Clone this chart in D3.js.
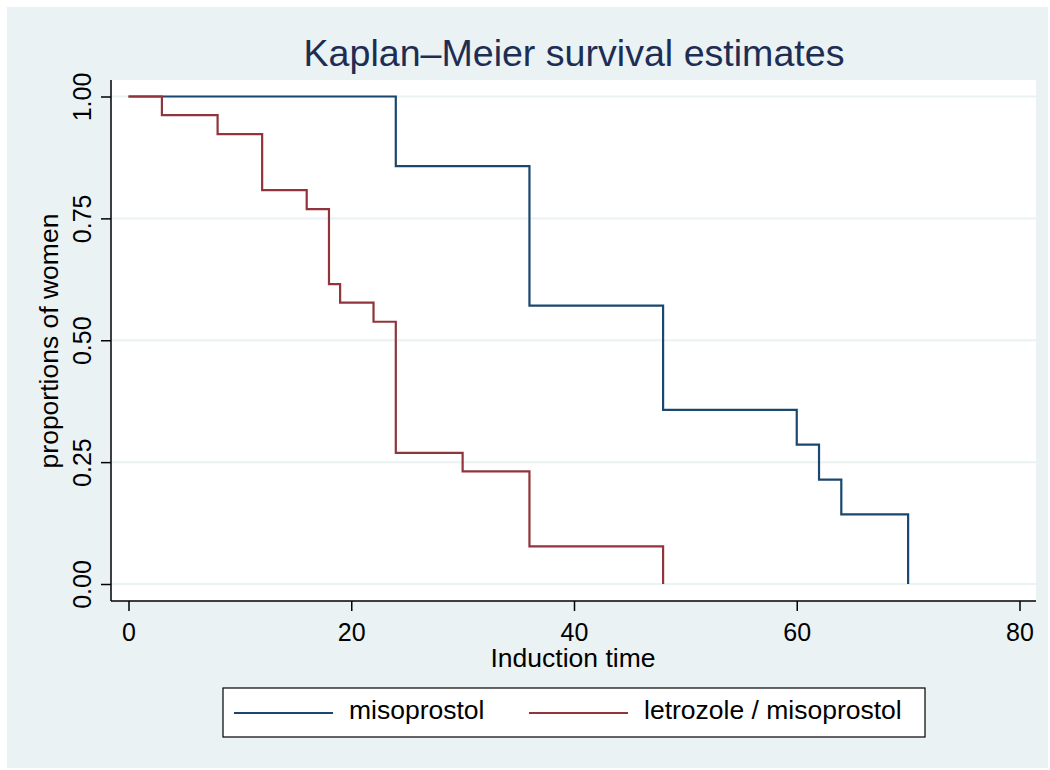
<!DOCTYPE html>
<html>
<head>
<meta charset="utf-8">
<script src="https://cdn.jsdelivr.net/npm/d3@7"></script>
<style>
  body { margin: 0; background: #fff; }
  text { font-family: "Liberation Sans", Arial, sans-serif; }
</style>
</head>
<body>
<div id="chart"></div>
<script>
// Kaplan-Meier estimates
var misoTimes = [0, 24, 36, 48, 60, 62, 64, 70];
var misoSurv  = [1.000, 0.857, 0.571, 0.357, 0.286, 0.214, 0.143, 0.000];

var letroTimes = [0, 3, 8, 12, 16, 18, 19, 22, 24, 30, 36, 48];
var letroSurv  = [1.000, 0.962, 0.923, 0.808, 0.769, 0.615, 0.577, 0.538, 0.269, 0.231, 0.077, 0.000];

var xTicks = [0, 20, 40, 60, 80];
var yTicks = [0, 0.25, 0.5, 0.75, 1];
var seriesNames = ["misoprostol", "letrozole / misoprostol"];
var seriesColors = ["#1a476f", "#90353b"];

var W = 1050, H = 770;
var svg = d3.select("#chart").append("svg")
    .attr("width", W).attr("height", H);

// outer background
svg.append("rect")
    .attr("x", 7).attr("y", 7)
    .attr("width", 1041).attr("height", 761)
    .attr("fill", "#eaf2f3");

// plot region
var plot = {left: 111, right: 1036, top: 80, bottom: 601};
svg.append("rect")
    .attr("x", plot.left).attr("y", plot.top)
    .attr("width", plot.right - plot.left)
    .attr("height", plot.bottom - plot.top)
    .attr("fill", "#ffffff");

var x = d3.scaleLinear().domain([0, 80]).range([128.5, 1019.5]);
var y = d3.scaleLinear().domain([0, 1]).range([584, 96.5]);

// gridlines
svg.append("g").selectAll("line")
    .data(yTicks).enter().append("line")
    .attr("x1", plot.left).attr("x2", plot.right)
    .attr("y1", function(d) { return y(d); })
    .attr("y2", function(d) { return y(d); })
    .attr("stroke", "#eaf2f3")
    .attr("stroke-width", 2);

// axes
var xAxis = d3.axisBottom(x).tickValues(xTicks)
    .tickSize(10).tickPadding(12).tickFormat(d3.format("d"));
var gx = svg.append("g")
    .attr("transform", "translate(0," + plot.bottom + ")")
    .call(xAxis);
gx.select(".domain").attr("d", "M" + plot.left + ",0H" + plot.right)
    .attr("stroke", "#000").attr("stroke-width", 1.5);

var yAxis = d3.axisLeft(y).tickValues(yTicks)
    .tickSize(10).tickFormat(d3.format(".2f"));
var gy = svg.append("g")
    .attr("transform", "translate(" + plot.left + ",0)")
    .call(yAxis);
gy.select(".domain").attr("d", "M0," + plot.top + "V" + plot.bottom)
    .attr("stroke", "#000").attr("stroke-width", 1.5);

svg.selectAll(".tick line").attr("stroke", "#000").attr("stroke-width", 1.5);
gx.selectAll(".tick text")
    .attr("font-size", 25)
    .attr("fill", "#000")
    .attr("font-family", "Liberation Sans, Arial, sans-serif");
gy.selectAll(".tick text")
    .attr("font-size", 25)
    .attr("fill", "#000")
    .attr("font-family", "Liberation Sans, Arial, sans-serif")
    .attr("text-anchor", "middle")
    .attr("dy", null)
    .attr("x", null)
    .attr("transform", "translate(-20,0) rotate(-90)");

// step lines
var line = d3.line()
    .x(function(d) { return x(d[0]); })
    .y(function(d) { return y(d[1]); })
    .curve(d3.curveStepAfter);

var series = [d3.zip(misoTimes, misoSurv), d3.zip(letroTimes, letroSurv)];
svg.append("g").selectAll("path")
    .data(series).enter().append("path")
    .attr("d", line)
    .attr("fill", "none")
    .attr("stroke", function(d, i) { return seriesColors[i]; })
    .attr("stroke-width", 2.2);

// titles
svg.append("text")
    .attr("x", 574).attr("y", 66)
    .attr("text-anchor", "middle")
    .attr("font-size", 37.6)
    .attr("fill", "#1e2d53")
    .text("Kaplan\u2013Meier survival estimates");

svg.append("text")
    .attr("x", 573).attr("y", 667)
    .attr("text-anchor", "middle")
    .attr("font-size", 26.5)
    .attr("fill", "#000")
    .text("Induction time");

svg.append("text")
    .attr("transform", "translate(58,341) rotate(-90)")
    .attr("text-anchor", "middle")
    .attr("font-size", 26.5)
    .attr("fill", "#000")
    .text("proportions of women");

// legend
var legend = svg.append("g");
legend.append("rect")
    .attr("x", 223).attr("y", 688)
    .attr("width", 702).attr("height", 49)
    .attr("fill", "#fff")
    .attr("stroke", "#000")
    .attr("stroke-width", 1.2);

var legendX = [234, 529];
var items = legend.selectAll("g.item")
    .data(seriesNames).enter().append("g")
    .attr("class", "item")
    .attr("transform", function(d, i) { return "translate(" + legendX[i] + ",713)"; });
items.append("line")
    .attr("x1", 0).attr("x2", 99)
    .attr("stroke", function(d, i) { return seriesColors[i]; })
    .attr("stroke-width", 2.2);
items.append("text")
    .attr("x", 115).attr("y", 6)
    .attr("font-size", 26.5)
    .attr("fill", "#000")
    .text(function(d) { return d; });
</script>
</body>
</html>
